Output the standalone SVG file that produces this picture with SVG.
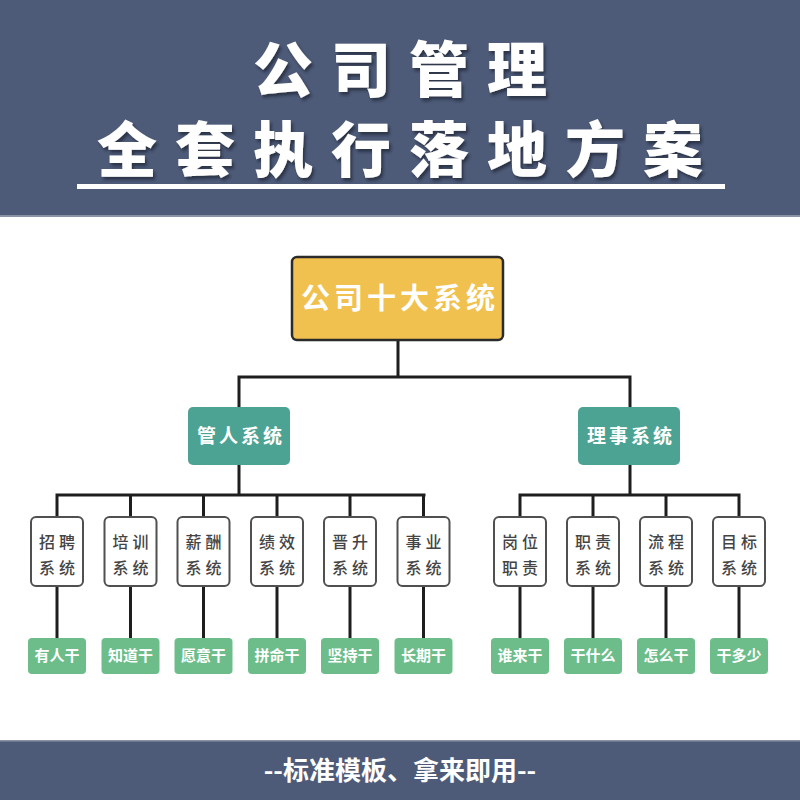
<svg xmlns="http://www.w3.org/2000/svg" width="800" height="800" viewBox="0 0 800 800">
<defs>
<filter id="sh" x="-10%" y="-10%" width="130%" height="130%"><feDropShadow dx="2" dy="3" stdDeviation="1.5" flood-color="#1c2333" flood-opacity="0.7"/></filter>
<style>
.cjk{font-family:"Noto Sans CJK SC","Noto Sans",sans-serif}
.title{font-size:60px;font-weight:900;fill:#fff;text-anchor:middle;letter-spacing:18px}
.conn{stroke:#1e1e1e;stroke-width:3;fill:none;stroke-linecap:square}
.sys{fill:#fff;stroke:#505050;stroke-width:2}
.systx{font-size:16px;font-weight:500;fill:#444;text-anchor:middle;letter-spacing:4px}
.mid{fill:#4da393}
.midtx{font-size:19px;font-weight:700;fill:#fff;text-anchor:middle;letter-spacing:3px}
.lab{fill:#6cbd8a}
.labtx{font-size:15px;font-weight:700;fill:#fff;text-anchor:middle}
</style>
</defs>
<rect x="0" y="0" width="800" height="216" fill="#4e5b78"/>
<rect x="0" y="215" width="800" height="2" fill="#8a93a6"/>
<g class="cjk" filter="url(#sh)">
<text class="title" x="400" y="92" dx="9">公司管理</text>
<text class="title" x="400" y="172" dx="9">全套执行落地方案</text>
</g>
<rect x="77" y="184" width="648" height="5" fill="#fff"/>
<rect x="0" y="740" width="800" height="60" fill="#4e5b78"/>
<rect x="0" y="740" width="800" height="1.5" fill="#8a93a6"/>
<text class="cjk" x="400" y="780" font-size="26" font-weight="700" fill="#fff" text-anchor="middle">--标准模板、拿来即用--</text>

<g id="connectors">
<path class="conn" d="M398,340V377M239,377H630M239,377V407M630,377V407"/>
<path class="conn" d="M239,465V495M57,495H424M57,495V517M130.5,495V517M203.5,495V517M277,495V517M350,495V517M423.5,495V517"/>
<path class="conn" d="M630,465V495M520,495H739M520,495V517M593,495V517M666,495V517M739,495V517"/>
<path class="conn" d="M57,586V638M130.5,586V638M203.5,586V638M277,586V638M350,586V638M423.5,586V638M520,586V638M593,586V638M666,586V638M739,586V638"/>
</g>

<g id="root">
<rect x="292" y="257" width="211" height="83" rx="5" fill="#f1c14f" stroke="#2b2b2b" stroke-width="2.5"/>
<text class="cjk" x="400" y="309" font-size="29" font-weight="700" fill="#fff" text-anchor="middle" letter-spacing="4">公司十大系统</text>
</g>
<g id="guanren"><rect class="mid" x="188" y="407" width="102" height="58" rx="5"/><text class="cjk midtx" x="241" y="443">管人系统</text></g>
<g id="lishi"><rect class="mid" x="578" y="407" width="102" height="58" rx="5"/><text class="cjk midtx" x="631" y="443">理事系统</text></g>

<g id="s1"><rect class="sys" x="31" y="517" width="52" height="69" rx="5"/><text class="cjk systx" x="59" y="548">招聘</text><text class="cjk systx" x="59" y="574">系统</text></g>
<g id="s2"><rect class="sys" x="104.5" y="517" width="52" height="69" rx="5"/><text class="cjk systx" x="132.5" y="548">培训</text><text class="cjk systx" x="132.5" y="574">系统</text></g>
<g id="s3"><rect class="sys" x="177.5" y="517" width="52" height="69" rx="5"/><text class="cjk systx" x="205.5" y="548">薪酬</text><text class="cjk systx" x="205.5" y="574">系统</text></g>
<g id="s4"><rect class="sys" x="251" y="517" width="52" height="69" rx="5"/><text class="cjk systx" x="279" y="548">绩效</text><text class="cjk systx" x="279" y="574">系统</text></g>
<g id="s5"><rect class="sys" x="324" y="517" width="52" height="69" rx="5"/><text class="cjk systx" x="352" y="548">晋升</text><text class="cjk systx" x="352" y="574">系统</text></g>
<g id="s6"><rect class="sys" x="397.5" y="517" width="52" height="69" rx="5"/><text class="cjk systx" x="425.5" y="548">事业</text><text class="cjk systx" x="425.5" y="574">系统</text></g>
<g id="s7"><rect class="sys" x="494" y="517" width="52" height="69" rx="5"/><text class="cjk systx" x="522" y="548">岗位</text><text class="cjk systx" x="522" y="574">职责</text></g>
<g id="s8"><rect class="sys" x="567" y="517" width="52" height="69" rx="5"/><text class="cjk systx" x="595" y="548">职责</text><text class="cjk systx" x="595" y="574">系统</text></g>
<g id="s9"><rect class="sys" x="640" y="517" width="52" height="69" rx="5"/><text class="cjk systx" x="668" y="548">流程</text><text class="cjk systx" x="668" y="574">系统</text></g>
<g id="s10"><rect class="sys" x="713" y="517" width="52" height="69" rx="5"/><text class="cjk systx" x="741" y="548">目标</text><text class="cjk systx" x="741" y="574">系统</text></g>

<g id="l1"><rect class="lab" x="28" y="638" width="58" height="36" rx="4"/><text class="cjk labtx" x="57" y="661">有人干</text></g>
<g id="l2"><rect class="lab" x="101.5" y="638" width="58" height="36" rx="4"/><text class="cjk labtx" x="130.5" y="661">知道干</text></g>
<g id="l3"><rect class="lab" x="174.5" y="638" width="58" height="36" rx="4"/><text class="cjk labtx" x="203.5" y="661">愿意干</text></g>
<g id="l4"><rect class="lab" x="248" y="638" width="58" height="36" rx="4"/><text class="cjk labtx" x="277" y="661">拼命干</text></g>
<g id="l5"><rect class="lab" x="321" y="638" width="58" height="36" rx="4"/><text class="cjk labtx" x="350" y="661">坚持干</text></g>
<g id="l6"><rect class="lab" x="394.5" y="638" width="58" height="36" rx="4"/><text class="cjk labtx" x="423.5" y="661">长期干</text></g>
<g id="l7"><rect class="lab" x="491" y="638" width="58" height="36" rx="4"/><text class="cjk labtx" x="520" y="661">谁来干</text></g>
<g id="l8"><rect class="lab" x="564" y="638" width="58" height="36" rx="4"/><text class="cjk labtx" x="593" y="661">干什么</text></g>
<g id="l9"><rect class="lab" x="637" y="638" width="58" height="36" rx="4"/><text class="cjk labtx" x="666" y="661">怎么干</text></g>
<g id="l10"><rect class="lab" x="710" y="638" width="58" height="36" rx="4"/><text class="cjk labtx" x="739" y="661">干多少</text></g>
</svg>
